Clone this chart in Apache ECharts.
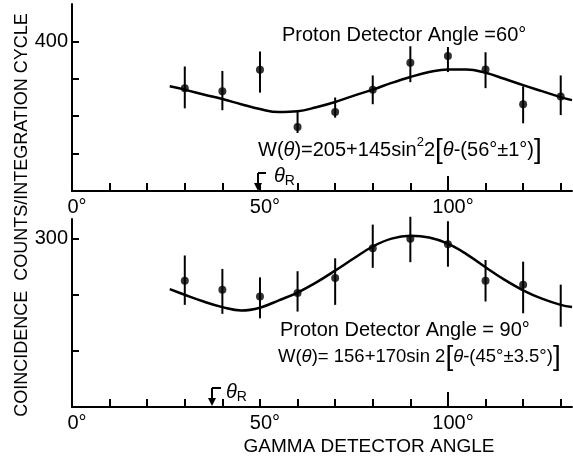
<!DOCTYPE html>
<html>
<head>
<meta charset="utf-8">
<script src="https://cdn.jsdelivr.net/npm/echarts@6/dist/echarts.min.js"></script>
<style>
html,body{margin:0;padding:0;background:#fff;}
#c{width:573px;height:460px;}
</style>
</head>
<body>
<div id="c"></div>
<script>
// ---- data ----
const pointAngles = [30, 40, 50, 60, 70, 80, 90, 100, 110, 120, 130];

// top panel (proton detector 60°)
const topValues = [275, 267, 324, 171, 211, 271, 343, 361, 325, 232, 253];
const topErrHi  = [333, 321, 373, 214, 250, 309, 387, 385, 371, 280, 309];
const topErrLo  = [221, 216, 263, 155, 196, 232, 291, 318, 275, 181, 203];

// bottom panel (proton detector 90°)
const botValues = [225, 209, 197, 203, 230, 283, 300, 290, 225, 218, null];
const botErrHi  = [270, 246, 231, 242, 265, 325, 339, 331, 262, 259, 218];
const botErrLo  = [182, 166, 158, 170, 182, 248, 258, 250, 188, 167, 143];

// fitted curves as drawn
const curveAngles = [26, 30, 35, 40, 45, 50, 55, 60, 65, 70, 75, 80, 85, 90, 95, 100, 105, 110, 115, 120, 125, 130, 133];
const topCurve = [280, 271, 258, 246, 232, 219, 211, 213, 224, 238, 255, 271, 289, 305, 318, 325, 325, 316, 300, 283, 267, 251, 243];
const botCurve = [210, 200, 188, 178, 172, 177, 190, 204, 222, 243, 265, 286, 300, 305, 302, 291, 272, 249, 227, 208, 193, 182, 178];

const xTicks = [0, 10, 20, 30, 40, 50, 60, 70, 80, 90, 100, 110, 120, 130];
const xLabels = [0, 50, 100];
const topYTicks = [100, 200, 300, 400];
const topYLabels = [400];
const botYTicks = [100, 200, 300];
const botYLabels = [300];

// ---- chart ----
const FONT = "'Liberation Sans', Arial, sans-serif";
const chart = echarts.init(document.getElementById('c'), null, {renderer: 'canvas'});

function xAxisMain(gi) {
  return {
    type: 'value', gridIndex: gi, min: 0, max: 133,
    axisLine: {show: true, onZero: false, lineStyle: {color: '#000', width: 2}},
    axisTick: {show: true, inside: true, length: 8, customValues: xTicks, lineStyle: {color: '#000', width: 2}},
    axisLabel: {show: true, customValues: xLabels, formatter: v => v + '°', color: '#000',
      fontFamily: FONT, fontSize: 20, margin: 6, padding: [0, 0, 0, 10]},
    splitLine: {show: false}
  };
}
function xAxisLong(gi) {
  return {
    type: 'value', gridIndex: gi, min: 0, max: 133, position: 'bottom',
    axisLine: {show: false},
    axisTick: {show: true, inside: true, length: 15, customValues: [100], lineStyle: {color: '#000', width: 2}},
    axisLabel: {show: false}, splitLine: {show: false}
  };
}
function yAxis(gi, max, ticks, labels) {
  return {
    type: 'value', gridIndex: gi, min: 0, max: max,
    axisLine: {show: true, onZero: false, lineStyle: {color: '#000', width: 2}},
    axisTick: {show: true, inside: true, length: 7, customValues: ticks, lineStyle: {color: '#000', width: 2}},
    axisLabel: {show: true, customValues: labels, color: '#000', fontFamily: FONT, fontSize: 20, margin: 4},
    splitLine: {show: false}
  };
}

function zip(a, b) { return a.map((v, i) => [v, b[i]]); }
function errData(lo, hi) { return pointAngles.map((a, i) => [a, lo[i], hi[i]]); }

function errorBarRender(params, api) {
  const x = api.value(0), lo = api.value(1), hi = api.value(2);
  const p1 = api.coord([x, lo]), p2 = api.coord([x, hi]);
  return {type: 'line', shape: {x1: p1[0], y1: p1[1], x2: p2[0], y2: p2[1]},
    style: {stroke: '#000', lineWidth: 2}};
}

const option = {
  backgroundColor: '#fff',
  animation: false,
  grid: [
    {left: 72, top: 4, width: 500, height: 187},
    {left: 72, top: 219, width: 500, height: 188}
  ],
  xAxis: [xAxisMain(0), xAxisMain(1), xAxisLong(0), xAxisLong(1)],
  yAxis: [yAxis(0, 500, topYTicks, topYLabels), yAxis(1, 335, botYTicks, botYLabels)],
  series: [
    {type: 'line', xAxisIndex: 0, yAxisIndex: 0, data: zip(curveAngles, topCurve), smooth: 0.4,
      showSymbol: false, lineStyle: {color: '#000', width: 2.5}},
    {type: 'custom', xAxisIndex: 0, yAxisIndex: 0, data: errData(topErrLo, topErrHi),
      encode: {x: 0, y: [1, 2]}, renderItem: errorBarRender},
    {type: 'scatter', xAxisIndex: 0, yAxisIndex: 0, data: zip(pointAngles, topValues),
      symbolSize: 8, itemStyle: {color: '#000'}},
    {type: 'line', xAxisIndex: 1, yAxisIndex: 1, data: zip(curveAngles, botCurve), smooth: 0.4,
      showSymbol: false, lineStyle: {color: '#000', width: 2.5}},
    {type: 'custom', xAxisIndex: 1, yAxisIndex: 1, data: errData(botErrLo, botErrHi),
      encode: {x: 0, y: [1, 2]}, renderItem: errorBarRender},
    {type: 'scatter', xAxisIndex: 1, yAxisIndex: 1,
      data: zip(pointAngles, botValues).filter(d => d[1] != null),
      symbolSize: 8, itemStyle: {color: '#000'}}
  ]
};
chart.setOption(option);

// ---- annotations ----
const base = {fill: '#000', fontFamily: FONT, fontSize: 20, textVerticalAlign: 'middle'};
function richF(sz) {
  return {
    n: {fontFamily: FONT, fontSize: sz, color: '#000'},
    i: {fontFamily: FONT, fontSize: sz, fontStyle: 'italic', color: '#000'},
    s: {fontFamily: FONT, fontSize: 13, color: '#000', verticalAlign: 'top'},
    b: {fontFamily: FONT, fontSize: 28, color: '#000'}
  };
}
const richR = {
  i: {fontFamily: FONT, fontSize: 20, fontStyle: 'italic', color: '#000'},
  r: {fontFamily: FONT, fontSize: 14, color: '#000', verticalAlign: 'bottom', padding: [10, 0, 0, 0]}
};
function arrow(x, yTop, yBot, hx) {
  return [
    {type: 'line', shape: {x1: x, y1: yTop, x2: x, y2: yBot - 6}, style: {stroke: '#000', lineWidth: 2}},
    {type: 'line', shape: {x1: x, y1: yTop, x2: hx, y2: yTop}, style: {stroke: '#000', lineWidth: 2}},
    {type: 'polygon', shape: {points: [[x - 4, yBot - 8], [x + 4, yBot - 8], [x, yBot]]}, style: {fill: '#000'}}
  ];
}
const graphics = [
  {type: 'text', x: 282, y: 35, style: Object.assign({text: 'Proton Detector Angle =60°'}, base)},
  {type: 'text', x: 258, y: 150, style: {text: '{n|W(}{i|θ}{n|)=205+145sin}{s|2}{n|2}{b|[}{i|θ}{n|-(56°±1°)}{b|]}',
    rich: richF(20), textVerticalAlign: 'middle'}},
  {type: 'text', x: 280, y: 330, style: Object.assign({text: 'Proton Detector Angle = 90°'}, base)},
  {type: 'text', x: 278, y: 357, style: {text: '{n|W(}{i|θ}{n|)= 156+170sin 2}{b|[}{i|θ}{n|-(45°±3.5°)}{b|]}',
    rich: richF(18.5), textVerticalAlign: 'middle'}},
  {type: 'text', x: 369, y: 447, style: {text: 'GAMMA DETECTOR ANGLE', fill: '#000', fontFamily: FONT, fontSize: 19,
    textAlign: 'center', textVerticalAlign: 'middle'}},
  {type: 'text', x: 22, y: 215, rotation: Math.PI / 2, style: {text: 'COINCIDENCE  COUNTS/INTEGRATION CYCLE',
    fill: '#000', fontFamily: FONT, fontSize: 18, textAlign: 'center', textVerticalAlign: 'middle'}},
  {type: 'text', x: 274, y: 176, style: {text: '{i|θ}{r|R}', rich: richR, textVerticalAlign: 'middle'}},
  {type: 'text', x: 226, y: 392, style: {text: '{i|θ}{r|R}', rich: richR, textVerticalAlign: 'middle'}}
].concat(arrow(258, 173, 191, 266), arrow(212, 388, 406, 221));

chart.setOption({graphic: graphics});
</script>
</body>
</html>
